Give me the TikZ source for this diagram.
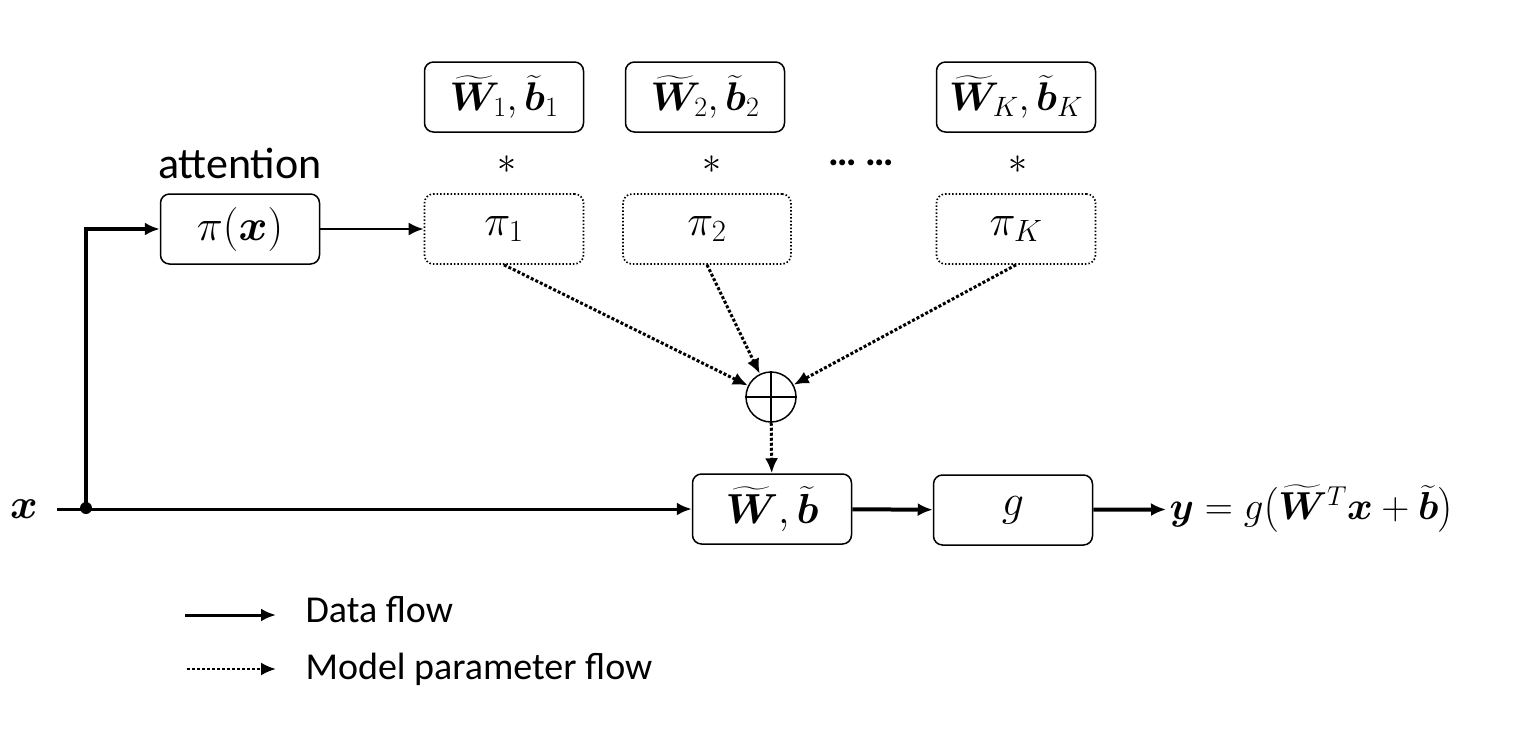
\documentclass[tikz,border=0pt]{standalone}
\usepackage{fix-cm}
\usepackage{amsmath}
\usepackage{bm}
\usepackage[no-math]{fontspec}
\setmainfont{Carlito}
\usetikzlibrary{arrows.meta}
\usetikzlibrary{calc}

\begin{document}
\begin{tikzpicture}[x=1pt,y=1pt,yscale=-1,xscale=1,
  blk/.style={draw, rounded corners=9, line width=1.5, minimum width=159, minimum height=70, inner sep=0, font=\fontsize{44}{50}\selectfont},
  wblk/.style={blk, font=\fontsize{40}{46}\selectfont},
  dblk/.style={blk, dotted, line width=1.7},
  lbl/.style={font=\fontsize{38}{44}\selectfont},
  dataflow/.style={line width=3, -{Latex[length=15,width=13]}},
  parflow/.style={line width=3, dotted, -{Latex[length=15,width=13]}}]
\useasboundingbox (0,0) rectangle (1532,736);

%Shape: Weight boxes
\node[wblk] (w1) at (504,97) {$\widetilde{\bm{W}}_1,\widetilde{\bm{b}}_1$};
\node[wblk] (w2) at (705,97) {$\widetilde{\bm{W}}_2,\widetilde{\bm{b}}_2$};
\node[wblk] (wk) at (1016,97) {$\widetilde{\bm{W}}_K,\widetilde{\bm{b}}_K$};
\node[lbl] (s1) at (507,165) {$*$};
\node[lbl] (s2) at (712,165) {$*$};
\node[lbl] (sk) at (1018,165) {$*$};
\node[lbl, font=\fontsize{40}{44}\selectfont\bfseries] (gap) at (861,163) {… …};

%Shape: Attention boxes
\node[blk] (att) at (240,229) {$\pi(\bm{x})$};
\node[lbl, font=\fontsize{44}{50}\selectfont] (attlbl) at (240,163) {attention};
\node[dblk] (p1) at (504,229) {$\pi_1$};
\node[dblk, minimum width=168] (p2) at (707,229) {$\pi_2$};
\node[dblk] (pk) at (1016,229) {$\pi_K$};

%Shape: Sum
\node[draw, circle, line width=1.5, minimum size=50, inner sep=0] (sum) at (771,397) {};
\draw[line width=1.5] (sum.north) -- (sum.south) (sum.west) -- (sum.east);

%Shape: Main row
\node[lbl, font=\fontsize{42}{48}\selectfont] (xin) at (24,509) {$\bm{x}$};
\coordinate (split) at (86,508);
\node[blk, font=\fontsize{42}{48}\selectfont] (wb) at (772,509) {$\widetilde{\bm{W}},\widetilde{\bm{b}}$};
\node[blk] (g) at (1013,510) {$g$};
\node[lbl, anchor=west, font=\fontsize{39}{44}\selectfont] (out) at (1166,509) {$\bm{y}=g\bigl(\widetilde{\bm{W}}^T\bm{x}+\widetilde{\bm{b}}\bigr)$};

%Connectors
\draw[dataflow] ([xshift=16]xin.east) -- (wb.west);
\fill (split) circle (6);
\draw[dataflow, line width=3.5] (split) -- (split |- att) -- (att.west);
\draw[dataflow, line width=2.5] (att) -- (p1);
\draw[parflow] (p1.south) -- (sum);
\draw[parflow] (p2.south) -- (sum);
\draw[parflow] (pk.south) -- (sum);
\draw[parflow] (sum) -- (wb);
\draw[dataflow, line width=4] (wb) -- (g);
\draw[dataflow, line width=4] (g) -- (out);

%Legend
\node[lbl, anchor=west] (datalbl) at (302,610) {Data flow};
\node[lbl, anchor=west] (parlbl) at (302,669) {Model parameter flow};
\coordinate (d0) at (185,615);
\coordinate (d1) at (276,615);
\coordinate (m0) at (187,669);
\coordinate (m1) at (276,669);
\draw[dataflow] (d0) -- (d1);
\draw[parflow, line width=2.5] (m0) -- (m1);

\end{tikzpicture}
\end{document}
